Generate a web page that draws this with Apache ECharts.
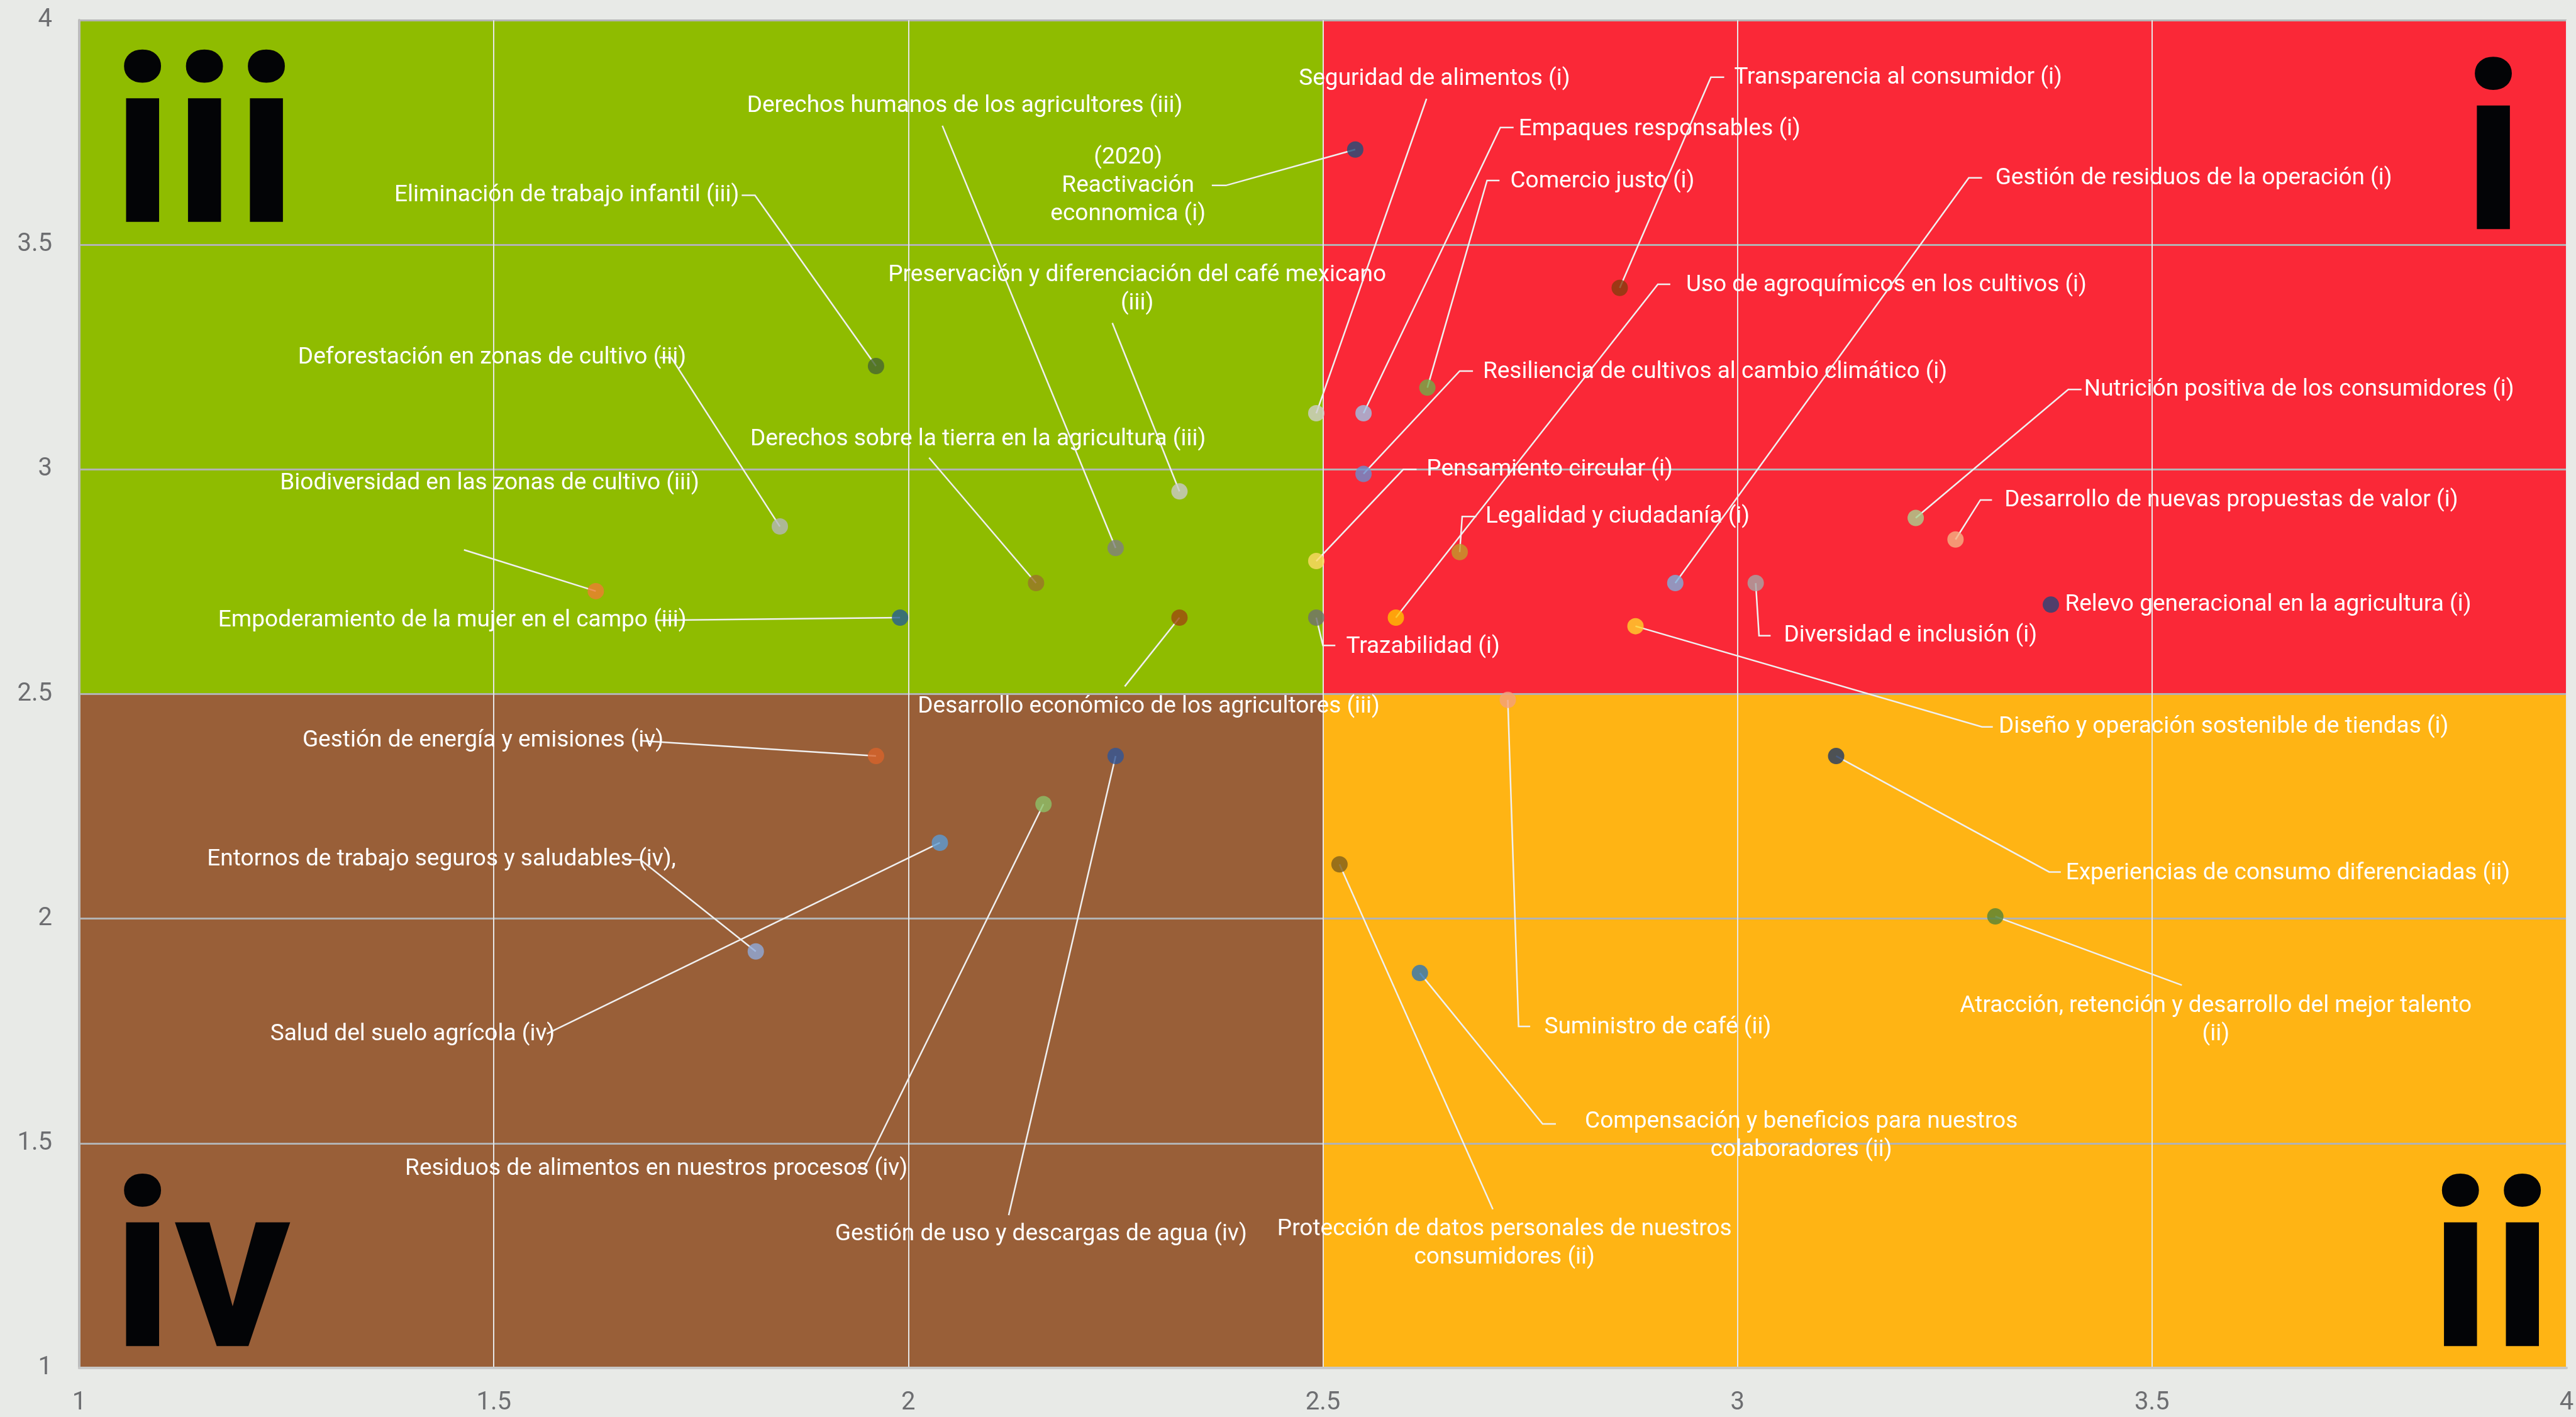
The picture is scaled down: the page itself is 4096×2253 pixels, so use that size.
<!DOCTYPE html>
<html>
<head>
<meta charset="utf-8">
<title>Matriz de materialidad</title>
<script src="https://cdn.jsdelivr.net/npm/echarts@6/dist/echarts.min.js"></script>
<style>
  html, body { margin: 0; padding: 0; background: #e8eae7; }
  #chart { width: 4096px; height: 2253px; }
</style>
</head>
<body>
<div id="chart"></div>
<script>
// temas materiales
const topics = [
  'Eliminación de trabajo infantil (iii)',
  'Deforestación en zonas de cultivo (iii)',
  'Biodiversidad en las zonas de cultivo (iii)',
  'Empoderamiento de la mujer en el campo (iii)',
  'Derechos sobre la tierra en la agricultura (iii)',
  'Derechos humanos de los agricultores (iii)',
  'Preservación y diferenciación del café mexicano\n(iii)',
  'Desarrollo económico de los agricultores (iii)',
  'Trazabilidad (i)',
  'Pensamiento circular (i)',
  'Seguridad de alimentos (i)',
  'Empaques responsables (i)',
  'Comercio justo (i)',
  'Transparencia al consumidor (i)',
  'Uso de agroquímicos en los cultivos (i)',
  'Legalidad y ciudadanía (i)',
  'Resiliencia de cultivos al cambio climático (i)',
  'Gestión de residuos de la operación (i)',
  'Diversidad e inclusión (i)',
  'Diseño y operación sostenible de tiendas (i)',
  'Nutrición positiva de los consumidores (i)',
  'Desarrollo de nuevas propuestas de valor (i)',
  'Relevo generacional en la agricultura (i)',
  '(2020)\nReactivación\neconnomica (i)',
  'Gestión de energía y emisiones (iv)',
  'Gestión de uso y descargas de agua (iv)',
  'Residuos de alimentos en nuestros procesos (iv)',
  'Salud del suelo agrícola (iv)',
  'Entornos de trabajo seguros y saludables (iv),',
  'Suministro de café (ii)',
  'Protección de datos personales de nuestros\nconsumidores (ii)',
  'Compensación y beneficios para nuestros\ncolaboradores (ii)',
  'Experiencias de consumo diferenciadas (ii)',
  'Atracción, retención y desarrollo del mejor talento\n(ii)'
];

// eje x
const influence = [
  1.961, 1.845, 1.623, 1.990, 2.154, 2.250, 2.327, 2.327,
  2.492, 2.492, 2.492, 2.549, 2.626, 2.858, 2.588, 2.665, 2.549,
  2.925, 3.022, 2.877, 3.215, 3.263, 3.378, 2.539,
  1.961, 2.250, 2.163, 2.038, 1.816,
  2.723, 2.520, 2.617, 3.119, 3.311
];

// eje y
const importance = [
  3.230, 2.873, 2.729, 2.670, 2.747, 2.825, 2.951, 2.670,
  2.670, 2.796, 3.125, 3.125, 3.182, 3.404, 2.670, 2.816, 2.990,
  2.747, 2.747, 2.651, 2.892, 2.844, 2.699, 3.712,
  2.362, 2.362, 2.255, 2.169, 1.927,
  2.487, 2.121, 1.879, 2.362, 2.005
];

const dotColors = [
  '#466530', '#b4b6ba', '#ed7d31', '#255e91', '#997329', '#7f7f7f', '#c9c9c9', '#9e480e',
  '#6f6f6f', '#ffd966', '#d0cece', '#9dc3e6', '#70ad47', '#843c0c', '#ffc000', '#c29a2a', '#698ed0',
  '#7cafdd', '#a5a5a5', '#ffd32a', '#a9d18e', '#f4b183', '#264478', '#1f4e79',
  '#d7632a', '#2f5597', '#8cc168', '#5b9bd5', '#8eaadb',
  '#f4a07a', '#7f5f1a', '#2e75b6', '#203864', '#548235'
];

// posición de cada etiqueta, en unidades de los ejes
const labelX = [
  1.588, 1.498, 1.495, 1.450, 2.084, 2.068, 2.276, 2.290,
  2.528, 2.625, 2.471, 2.736, 2.726, 2.996, 2.938, 2.696, 2.693,
  3.311, 3.056, 3.315, 3.418, 3.322, 3.395, 2.265,
  1.487, 2.160, 1.696, 1.402, 1.437,
  2.767, 2.719, 3.077, 3.396, 3.577
];
const labelY = [
  3.610, 3.248, 2.969, 2.664, 3.066, 3.808, 3.401, 2.471,
  2.605, 3.000, 3.869, 3.757, 3.640, 3.871, 3.409, 2.895, 3.217,
  3.647, 2.630, 2.427, 3.177, 2.931, 2.699, 3.631,
  2.396, 1.297, 1.443, 1.742, 2.131,
  1.758, 1.277, 1.516, 2.100, 1.774
];
const labelAlign = [
  'center', 'center', 'center', 'center', 'center', 'center', 'center', 'center',
  'left', 'left', 'left', 'left', 'left', 'left', 'left', 'left', 'left',
  'left', 'left', 'left', 'left', 'left', 'left', 'center',
  'center', 'center', 'center', 'center', 'center',
  'left', 'center', 'center', 'left', 'center'
];

// líneas guía: puntos de quiebre desde el punto hasta la etiqueta
const leaders = [
  [[1.815, 3.610], [1.799, 3.610]],
  [[1.714, 3.249], [1.700, 3.249]],
  [[1.464, 2.821]],
  [[1.697, 2.664]],
  [[2.025, 3.026]],
  [[2.041, 3.765]],
  [[2.246, 3.326]],
  [[2.261, 2.517]],
  [[2.500, 2.608], [2.515, 2.608]],
  [[2.597, 3.000], [2.613, 3.000]],
  [[2.625, 3.825]],
  [[2.714, 3.761], [2.730, 3.761]],
  [[2.698, 3.643], [2.713, 3.643]],
  [[2.968, 3.873], [2.984, 3.873]],
  [[2.904, 3.412], [2.919, 3.412]],
  [[2.668, 2.895], [2.685, 2.895]],
  [[2.665, 3.219], [2.681, 3.219]],
  [[3.279, 3.649], [3.295, 3.649]],
  [[3.026, 2.630], [3.040, 2.630]],
  [[3.295, 2.427], [3.308, 2.427]],
  [[3.399, 3.178], [3.415, 3.178]],
  [[3.293, 2.932], [3.307, 2.932]],
  [],
  [[2.383, 3.632], [2.366, 3.632]],
  [[1.677, 2.396]],
  [[2.121, 1.340]],
  [[1.947, 1.444], [1.938, 1.444]],
  [[1.564, 1.744]],
  [[1.677, 2.131], [1.658, 2.131]],
  [[2.736, 1.760], [2.750, 1.760]],
  [[2.705, 1.353]],
  [[2.765, 1.543], [2.781, 1.543]],
  [[3.376, 2.104], [3.390, 2.104]],
  [[3.536, 1.852]]
];

// cuadrantes
const quadrantNames = ['iii', 'i', 'iv', 'ii'];
const quadrantBounds = [
  [1, 2.5, 2.5, 4],
  [2.5, 2.5, 4, 4],
  [1, 1, 2.5, 2.5],
  [2.5, 1, 4, 2.5]
];
const quadrantColors = ['#8fbc00', '#fa2837', '#995f38', '#ffb414'];
const quadrantMarkX = [1.039, 3.949, 1.039, 3.984];
const quadrantMarkY = [3.681, 3.665, 1.179, 1.179];
const quadrantMarkAlign = ['left', 'right', 'left', 'right'];

const FONT = 'Roboto, "Noto Sans", sans-serif';

const chart = echarts.init(document.getElementById('chart'));

const renderQuadrant = (params, api) => {
  const i = params.dataIndex;
  const b = quadrantBounds[i];
  const p1 = api.coord([b[0], b[3]]);
  const p2 = api.coord([b[2], b[1]]);
  const m = api.coord([quadrantMarkX[i], quadrantMarkY[i]]);
  return {
    type: 'group',
    children: [
      {
        type: 'rect',
        shape: { x: p1[0], y: p1[1], width: p2[0] - p1[0], height: p2[1] - p1[1] },
        style: { fill: quadrantColors[i] }
      },
      {
        type: 'text',
        style: {
          x: m[0], y: m[1],
          text: quadrantNames[i],
          fill: '#030406',
          fontFamily: FONT,
          fontWeight: 'bold',
          fontSize: 372,
          align: quadrantMarkAlign[i],
          verticalAlign: 'middle'
        }
      }
    ]
  };
};

const renderNote = (params, api) => {
  const i = params.dataIndex;
  const dot = api.coord([influence[i], importance[i]]);
  const pts = [dot].concat(leaders[i].map(q => api.coord(q)));
  const anchor = api.coord([labelX[i], labelY[i]]);
  const children = [];
  if (leaders[i].length) {
    children.push({
      type: 'polyline',
      shape: { points: pts },
      style: { stroke: '#f0f0f0', lineWidth: 2.5, fill: null }
    });
  }
  children.push({
    type: 'text',
    style: {
      x: anchor[0], y: anchor[1],
      text: topics[i],
      fill: '#ffffff',
      fontFamily: FONT,
      fontSize: 37,
      lineHeight: 45,
      align: labelAlign[i],
      verticalAlign: 'middle'
    }
  });
  return { type: 'group', children };
};

const option = {
  backgroundColor: '#e8eae7',
  animation: false,
  grid: { left: 126, right: 15, top: 32, bottom: 78 },
  xAxis: {
    type: 'value',
    min: 1,
    max: 4,
    interval: 0.5,
    z: 1,
    axisLine: { show: true, lineStyle: { color: '#c8c8c8', width: 4 } },
    axisTick: { show: false },
    axisLabel: { color: '#6d6e71', fontSize: 40, fontFamily: FONT, margin: 36 },
    splitLine: { show: true, lineStyle: { color: '#e6e6e6', width: 2 } }
  },
  yAxis: {
    type: 'value',
    min: 1,
    max: 4,
    interval: 0.5,
    z: 1,
    axisLine: { show: true, lineStyle: { color: '#bcbcbc', width: 4 } },
    axisTick: { show: false },
    axisLabel: { color: '#6d6e71', fontSize: 40, fontFamily: FONT, margin: 43 },
    splitLine: { show: true, lineStyle: { color: '#b3b3b3', width: 3 } }
  },
  series: [
    {
      type: 'custom',
      name: 'cuadrantes',
      z: 0,
      renderItem: renderQuadrant,
      data: quadrantBounds.map(b => [b[0], b[1]]),
      silent: true
    },
    {
      type: 'custom',
      name: 'etiquetas',
      z: 3,
      renderItem: renderNote,
      data: topics.map((t, i) => [influence[i], importance[i]]),
      silent: true
    },
    {
      type: 'scatter',
      name: 'temas',
      z: 4,
      symbolSize: 26,
      data: topics.map((t, i) => ({
        name: t,
        value: [influence[i], importance[i]],
        itemStyle: { color: dotColors[i] }
      }))
    }
  ]
};

chart.setOption(option);
</script>
</body>
</html>
